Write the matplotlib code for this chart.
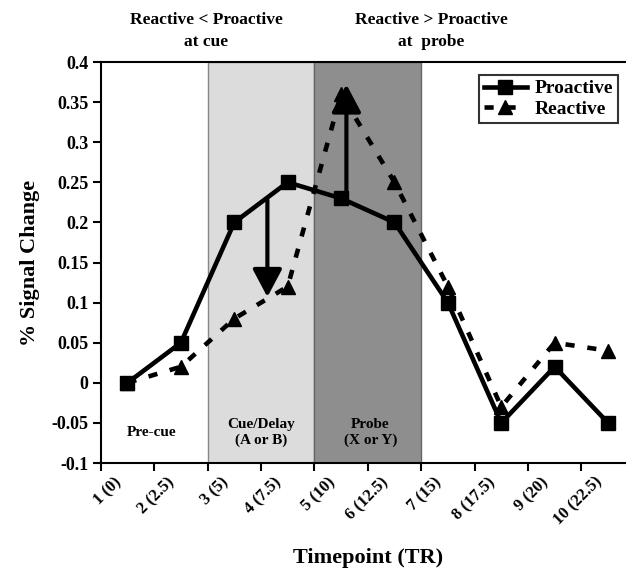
import matplotlib.pyplot as plt
import matplotlib.transforms as mtransforms
import numpy as np

plt.rcParams['font.family'] = 'Liberation Serif'
plt.rcParams['font.weight'] = 'bold'
plt.rcParams['axes.labelweight'] = 'bold'

tick_labels = ['1 (0)', '2 (2.5)', '3 (5)', '4 (7.5)', '5 (10)', '6 (12.5)',
               '7 (15)', '8 (17.5)', '9 (20)', '10 (22.5)']
proactive = [0, 0.05, 0.2, 0.25, 0.23, 0.2, 0.1, -0.05, 0.02, -0.05]
reactive = [0, 0.02, 0.08, 0.12, 0.36, 0.25, 0.12, -0.03, 0.05, 0.04]

x = np.arange(1, len(tick_labels) + 1)

fig = plt.figure(figsize=(6.26, 5.70), dpi=100)
ax = fig.add_axes([0.161, 0.1877, 0.853, 0.7035])

# shaded epochs
ax.axvspan(2.5, 4.5, facecolor='#dcdcdc', edgecolor='#888888', lw=1, zorder=0)
ax.axvspan(4.5, 6.5, facecolor='#8e8e8e', edgecolor='#666666', lw=1, zorder=0)

ax.plot(x, proactive, color='black', lw=3.3, marker='s', markersize=10.5,
        label='Proactive', zorder=3)
ax.plot(x, reactive, color='black', lw=3.3, ls=(0, (2.0, 2.8)), marker='^',
        markersize=9.5, label='Reactive', zorder=3)

# arrows
arrow_kw = dict(arrowstyle='-|>,head_length=0.85,head_width=0.45',
                color='black', lw=3, mutation_scale=20, shrinkA=0, shrinkB=0)
ax.annotate('', xy=(3.62, 0.107), xytext=(3.62, 0.228), arrowprops=arrow_kw, zorder=4)
ax.annotate('', xy=(5.1, 0.372), xytext=(5.1, 0.232), arrowprops=arrow_kw, zorder=4)

# epoch labels
ax.text(1.45, -0.062, 'Pre-cue', ha='center', va='center', fontsize=11)
ax.text(3.5, -0.062, 'Cue/Delay\n(A or B)', ha='center', va='center', fontsize=11,
        linespacing=1.3)
ax.text(5.55, -0.062, 'Probe\n(X or Y)', ha='center', va='center', fontsize=11,
        linespacing=1.3)

ax.set_xlim(0.5, 10.5)
ax.set_ylim(-0.1, 0.4)
ax.set_yticks(np.arange(-0.1, 0.401, 0.05))
ax.set_yticklabels(['-0.1', '-0.05', '0', '0.05', '0.1', '0.15', '0.2', '0.25',
                    '0.3', '0.35', '0.4'], fontsize=13)
ax.tick_params(axis='y', direction='out', length=6, width=1.5, pad=3)

ax.set_xticks(np.arange(0.5, 10.6, 1))
ax.set_xticklabels([])
ax.tick_params(axis='x', which='major', direction='out', length=6, width=1.5)
ax.set_xticks(x, minor=True)
ax.set_xticklabels(tick_labels, minor=True, rotation=45, ha='right',
                   rotation_mode='anchor', fontsize=12)
ax.tick_params(axis='x', which='minor', length=0, pad=8)
shift = mtransforms.ScaledTranslation(-0.14, 0, fig.dpi_scale_trans)
for lab in ax.get_xticklabels(minor=True):
    lab.set_transform(lab.get_transform() + shift)

for s in ax.spines.values():
    s.set_linewidth(1.5)

ax.set_ylabel('% Signal Change', fontsize=16, labelpad=8)
ax.set_xlabel('Timepoint (TR)', fontsize=16, labelpad=14)

leg = ax.legend(loc='upper right', bbox_to_anchor=(0.968, 0.968), fontsize=14,
                frameon=True, fancybox=False, handlelength=2.2, handletextpad=0.4,
                borderpad=0.25, labelspacing=0.15, borderaxespad=0)
leg.get_frame().set_edgecolor('black')
leg.get_frame().set_linewidth(1.5)

fig.text(206 / 626, 1 - 31 / 570, 'Reactive < Proactive\nat cue', ha='center',
         va='center', fontsize=12.5, linespacing=1.45)
fig.text(431 / 626, 1 - 31 / 570, 'Reactive > Proactive\nat  probe', ha='center',
         va='center', fontsize=12.5, linespacing=1.45)

fig.savefig('out.png', dpi=100)
